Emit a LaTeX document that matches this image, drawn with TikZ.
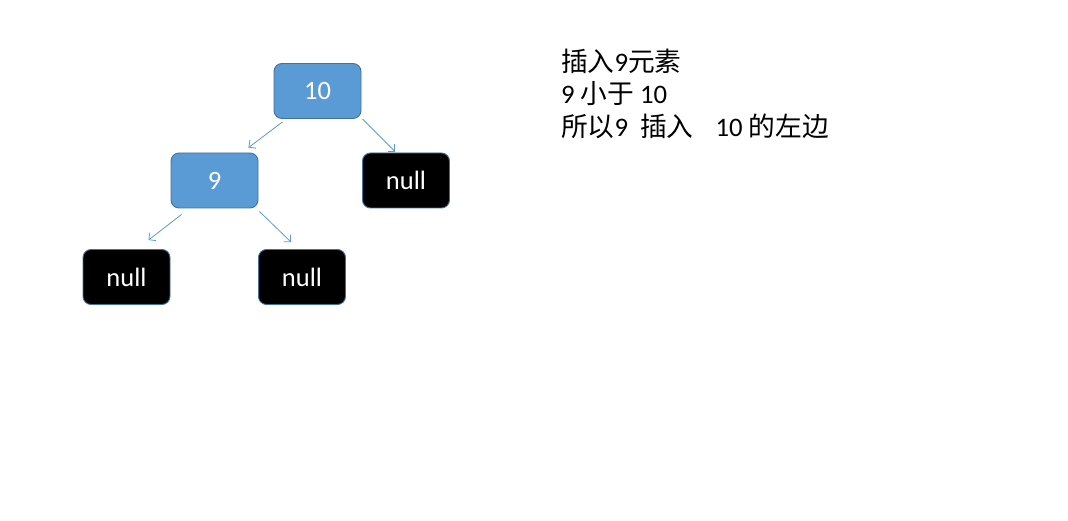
\documentclass[tikz,border=0pt]{standalone}
\usepackage{fontspec}
\setmainfont{Carlito}
\newfontfamily\cjk{Noto Sans CJK SC}
\usetikzlibrary{arrows.meta}
\definecolor{nodeblue}{RGB}{91,155,213}
\definecolor{edgeblue}{RGB}{65,113,156}
\tikzset{
  treebox/.style={rectangle, rounded corners=8bp, minimum width=87bp, minimum height=55bp,
    inner sep=0pt, draw=edgeblue, line width=0.9bp, text=white,
    font=\fontsize{26.5bp}{30bp}\selectfont},
  valbox/.style={treebox, fill=nodeblue},
  nullbox/.style={treebox, fill=black},
  link/.style={draw=nodeblue, line width=0.8bp, -{Straight Barb[length=5bp,width=10bp]}},
  note/.style={anchor=base west, inner sep=0pt, text=black,
    font=\fontsize{26.7bp}{32bp}\selectfont}
}
\begin{document}
\begin{tikzpicture}[x=1bp,y=-1bp]
\useasboundingbox (0,0) rectangle (1068,521);
\node[valbox] (n10) at (317.5,91) {10};
\node[valbox] (n9) at (214.5,180.5) {9};
\node[nullbox] (nr) at (406,180.5) {null};
\node[nullbox] (nl) at (126.5,277) {null};
\node[nullbox] (nm) at (302,277) {null};
\draw[link] ([xshift=9bp,yshift=-3bp]n10.south west) -- ([xshift=-10bp,yshift=5bp]n9.north east);
\draw[link] ([xshift=1bp]n10.south east) -- ([xshift=33bp,yshift=1bp]nr.north west);
\draw[link] ([xshift=11bp,yshift=-6bp]n9.south west) -- ([xshift=-22bp,yshift=9bp]nl.north east);
\draw[link] ([xshift=1bp,yshift=-3bp]n9.south east) -- ([xshift=33bp,yshift=7bp]nm.north west);
\node[note] (t1) at (561,72) {{\cjk 插入}9{\cjk 元素}};
\node[note] (t2) at (561,104) {9 {\cjk 小于} 10};
\node[note] (t3) at (561,137) {{\cjk 所以}9\hspace{12bp}{\cjk 插入}\hspace{22bp}10 {\cjk 的左边}};
\end{tikzpicture}
\end{document}
